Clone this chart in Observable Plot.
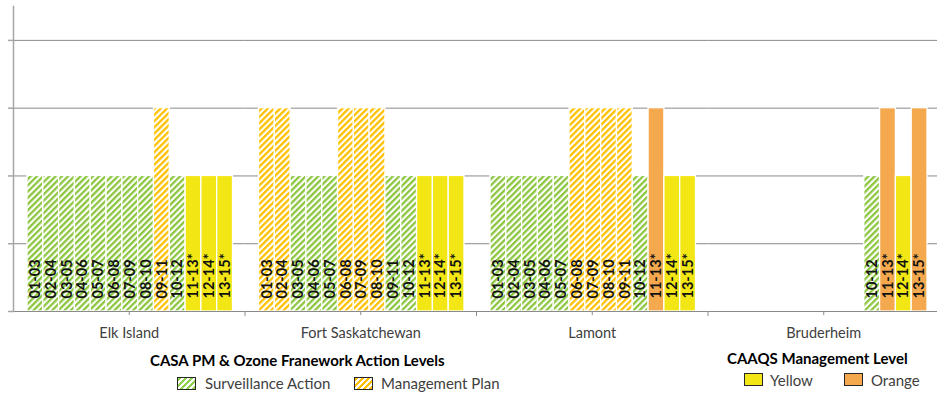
<!DOCTYPE html>
<html>
<head>
<meta charset="utf-8">
<script src="https://cdn.jsdelivr.net/npm/d3@7"></script>
<script src="https://cdn.jsdelivr.net/npm/@observablehq/plot@0.6"></script>
<style>
  html, body { margin: 0; padding: 0; background: #fff; overflow: hidden; }
  #wrap { position: relative; width: 937px; height: 397px; overflow: hidden; font-family: Lato, "Open Sans", sans-serif; }
  #chart svg { display: block; }
  .lg { position: absolute; white-space: nowrap; line-height: 16px; }
  .lg-title { font-size: 15px; font-weight: 700; color: #000; }
  .lg-label { font-size: 15px; color: #404040; }
  .sw { position: absolute; box-sizing: border-box; width: 19px; height: 13px; border: 1.5px solid #262626; }
  .sw-green { background: repeating-linear-gradient(135deg, #92d050 0 2.2px, #fff 2.2px 4.4px); }
  .sw-gold { background: repeating-linear-gradient(135deg, #ffc000 0 2.2px, #fff 2.2px 4.4px); }
  .sw-yellow { background: #f2e714; }
  .sw-orange { background: #f5a94f; }
</style>
</head>
<body>
<div id="wrap">
  <div id="chart"></div>
  <div class="lg lg-title" style="left:150px;top:352px">CASA PM &amp; Ozone Franework Action Levels</div>
  <div class="sw sw-green" style="left:177px;top:377px"></div>
  <div class="lg lg-label" style="left:205px;top:375px">Surveillance Action</div>
  <div class="sw sw-gold" style="left:354px;top:377px"></div>
  <div class="lg lg-label" style="left:381px;top:375px">Management Plan</div>
  <div class="lg lg-title" style="left:727px;top:350px">CAAQS Management Level</div>
  <div class="sw sw-yellow" style="left:744px;top:373px"></div>
  <div class="lg lg-label" style="left:770px;top:372px">Yellow</div>
  <div class="sw sw-orange" style="left:844px;top:373px"></div>
  <div class="lg lg-label" style="left:871px;top:372px">Orange</div>
</div>
<script>
// Monitoring stations (outer categories) and three-year periods (inner categories)
const stations = ["Elk Island", "Fort Saskatchewan", "Lamont", "Bruderheim"];
const periods = ["01-03", "02-04", "03-05", "04-06", "05-07", "06-08", "07-09",
                 "08-10", "09-11", "10-12", "11-13*", "12-14*", "13-15*"];

// Level reached in each period:
// S = Surveillance Action, M = Management Plan (CASA framework),
// Y = Yellow, O = Orange (CAAQS management level), null = no result
const elkIsland        = ["S", "S", "S", "S", "S", "S", "S", "S", "M", "S", "Y", "Y", "Y"];
const fortSaskatchewan = ["M", "M", "S", "S", "S", "M", "M", "M", "S", "S", "Y", "Y", "Y"];
const lamont           = ["S", "S", "S", "S", "S", "M", "M", "M", "M", "S", "O", "Y", "Y"];
const bruderheim       = [null, null, null, null, null, null, null, null, null, "S", "O", "Y", "O"];

// Bar height for each level (position on the action-level ladder)
const levelHeight = {S: 2, M: 3, Y: 2, O: 3};
const levelFill = {
  S: "url(#hatch-green)",
  M: "url(#hatch-gold)",
  Y: "#f2e714",
  O: "#f5a94f"
};

const seriesByStation = [elkIsland, fortSaskatchewan, lamont, bruderheim];
const rows = stations.flatMap((station, s) =>
  seriesByStation[s]
    .map((code, p) => ({station, period: periods[p], code}))
    .filter(d => d.code !== null)
    .map(d => ({...d, value: levelHeight[d.code], fill: levelFill[d.code]}))
);

const grid = "#8a8a8a";
const axisGray = "#a6a6a6";

const chart = Plot.plot({
  width: 937,
  height: 345,
  marginTop: 6,
  marginBottom: 34,
  marginLeft: 13,
  marginRight: 0,
  style: {fontFamily: "Lato, 'Open Sans', sans-serif", background: "white"},
  fx: {domain: stations, range: [13, 939], padding: 0, round: false, label: null},
  x: {domain: periods, padding: 0, round: false, insetLeft: 14, insetRight: 12, axis: null},
  y: {domain: [0, 4.5]},
  color: {type: "identity"},
  marks: [
    Plot.ruleY([1, 2, 3, 4], {stroke: grid, strokeWidth: 1}),
    Plot.barY(rows, {fx: "station", x: "period", y: "value", fill: "fill", stroke: "white", strokeWidth: 1.3}),
    Plot.text(rows, {
      fx: "station", x: "period", y: 0, text: "period",
      rotate: -90, textAnchor: "start", dy: -13,
      fontSize: 14.5, fontWeight: "bold", fill: "#111"
    }),
    Plot.ruleY([0], {stroke: grid, strokeWidth: 1}),
    // vertical axis: line on the first group only, unlabeled ticks
    Plot.frame({anchor: "left", fx: stations[0], stroke: axisGray, strokeWidth: 1.5}),
    Plot.axisY({
      ticks: [0, 1, 2, 3, 4], tickSize: 5, tickFormat: () => "",
      stroke: axisGray, strokeWidth: 1.5, label: null
    }),
    Plot.axisFx({
      anchor: "bottom", tickSize: 4, tickPadding: 12, fontSize: 14.5,
      color: "#404040", stroke: grid, label: null
    }),
    // tick marks on the boundaries between station groups
    Plot.vector(stations.slice(1), {
      fx: d => d, frameAnchor: "bottom-left", length: 4, rotate: 180, anchor: "start",
      stroke: grid, strokeWidth: 1,
      shape: {draw(context, l) { context.moveTo(0, 0); context.lineTo(0, -l); }}
    })
  ]
});

// Diagonal hatching used by the CASA framework levels
const defs = d3.select(chart).insert("defs", ":first-child");
[["hatch-green", "#8cc63f"], ["hatch-gold", "#ffc000"]].forEach(([id, color]) => {
  const p = defs.append("pattern")
    .attr("id", id)
    .attr("patternUnits", "userSpaceOnUse")
    .attr("width", 4.4).attr("height", 4.4)
    .attr("patternTransform", "rotate(45)");
  p.append("rect").attr("width", 4.4).attr("height", 4.4).attr("fill", "white");
  p.append("rect").attr("width", 2.3).attr("height", 4.4).attr("fill", color);
});

document.getElementById("chart").append(chart);
</script>
</body>
</html>
